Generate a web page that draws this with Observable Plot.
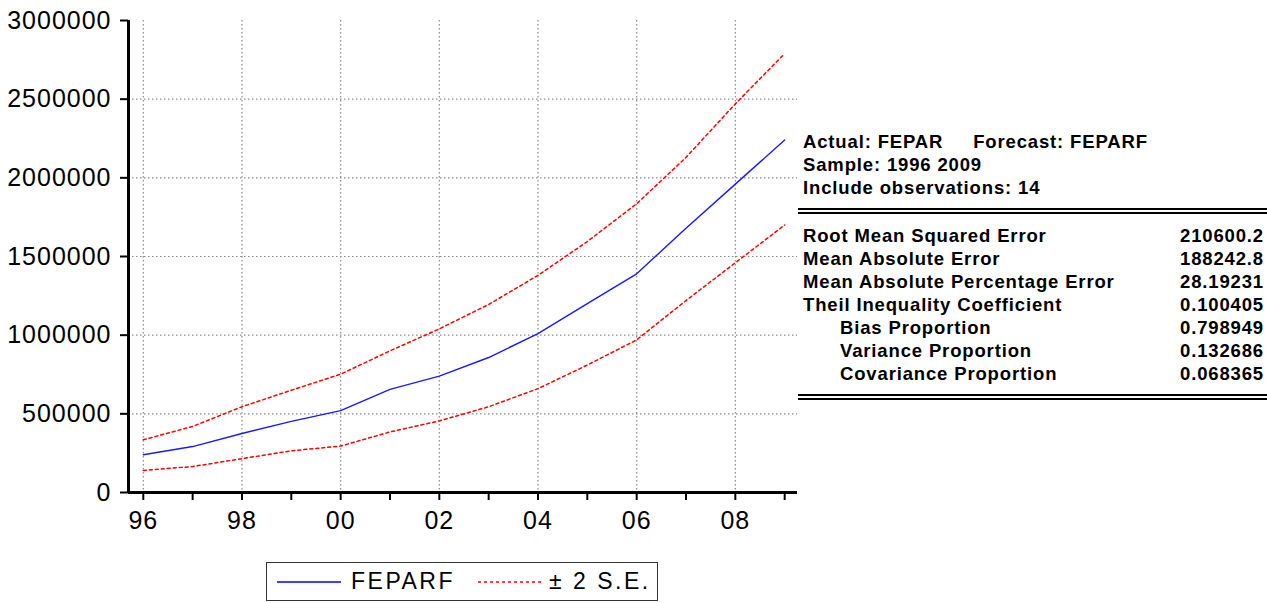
<!DOCTYPE html>
<html>
<head>
<meta charset="utf-8">
<script src="https://cdn.jsdelivr.net/npm/d3@7"></script>
<script src="https://cdn.jsdelivr.net/npm/@observablehq/plot@0.6"></script>
<style>
  html, body { margin: 0; padding: 0; background: #fff; }
  #wrap { position: relative; width: 1267px; height: 603px; overflow: hidden; }
  #chart { position: absolute; left: 0; top: 0; }
  #chart svg text { letter-spacing: 1px; }
  #stats { position: absolute; left: 798px; top: 130px; width: 469px;
           font-family: "Liberation Sans", Arial, sans-serif; font-weight: bold; font-size: 18.5px;
           letter-spacing: 0.85px; color: #000; }
  .row { position: relative; height: 23px; line-height: 23px; white-space: nowrap; padding-left: 5px; }
  .row .v { position: absolute; right: 3px; top: 0; }
  .ind { padding-left: 42px; }
  .dbl { height: 2px; border-top: 2px solid #000; border-bottom: 2px solid #000; margin: 0; }
  #legend { position: absolute; left: 266px; top: 562px; width: 390px; height: 37px;
            border: 1.5px solid #333; box-sizing: content-box;
            font-family: "Liberation Sans", Arial, sans-serif; font-size: 23px; color: #000; }
  #legend svg { position: absolute; left: 0; top: 0; }
  #legend .t { position: absolute; top: 5px; letter-spacing: 2.5px; }
</style>
</head>
<body>
<div id="wrap">
  <div id="chart"></div>
  <div id="stats"></div>
  <div id="legend"></div>
</div>
<script>
// ---- data ----
const years    = [1996, 1997, 1998, 1999, 2000, 2001, 2002, 2003, 2004, 2005, 2006, 2007, 2008, 2009];
const feparf   = [240000, 292000, 375000, 452000, 520000, 655000, 740000, 858000, 1010000, 1200000, 1390000, 1680000, 1960000, 2240000];
const upperSE  = [335000, 420000, 545000, 650000, 752000, 900000, 1040000, 1195000, 1380000, 1595000, 1835000, 2130000, 2470000, 2790000];
const lowerSE  = [140000, 165000, 215000, 265000, 295000, 385000, 455000, 545000, 660000, 810000, 970000, 1220000, 1460000, 1700000];
const yTicks   = [0, 500000, 1000000, 1500000, 2000000, 2500000, 3000000];
const xMajor   = [1996, 1998, 2000, 2002, 2004, 2006, 2008];
const xLabels  = ["96", "98", "00", "02", "04", "06", "08"];
const statLabels = ["Root Mean Squared Error", "Mean Absolute Error", "Mean Absolute Percentage Error",
                    "Theil Inequality Coefficient", "Bias Proportion", "Variance Proportion", "Covariance Proportion"];
const statValues = ["210600.2", "188242.8", "28.19231", "0.100405", "0.798949", "0.132686", "0.068365"];
const statIndent = [false, false, false, false, true, true, true];
const headerLines = ["Actual: FEPAR\u00a0\u00a0\u00a0\u00a0\u00a0Forecast: FEPARF", "Sample: 1996 2009", "Include observations: 14"];
const legendLabels = ["FEPARF", "\u00b1 2 S.E."];

const data = years.map((y, i) => ({year: y, f: feparf[i], up: upperSE[i], lo: lowerSE[i]}));
const xMin = 1995.7, xMax = 2009.26;
const gridStyle = {stroke: "#8a8a8a", strokeOpacity: 1, strokeWidth: 1.2, strokeDasharray: "1.5,2.5"};
const labelMap = new Map(xMajor.map((y, i) => [y, xLabels[i]]));

const chart = Plot.plot({
  width: 1267,
  height: 550,
  marginLeft: 128,
  marginRight: 470,
  marginTop: 20,
  marginBottom: 58,
  style: {fontFamily: "Liberation Sans, Arial, sans-serif", background: "#fff"},
  x: {domain: [xMin, xMax]},
  y: {domain: [0, 3000000]},
  marks: [
    Plot.gridX(xMajor, gridStyle),
    Plot.gridY(yTicks.slice(1, -1), gridStyle),
    Plot.line(data, {x: "year", y: "up", stroke: "#ff0000", strokeWidth: 1.5, strokeDasharray: "3,3"}),
    Plot.line(data, {x: "year", y: "lo", stroke: "#ff0000", strokeWidth: 1.5, strokeDasharray: "3,3"}),
    Plot.line(data, {x: "year", y: "f", stroke: "#1a1aff", strokeWidth: 1.4}),
    Plot.axisY(yTicks, {tickSize: 8, tickPadding: 9, strokeWidth: 2, fontSize: 25, tickFormat: d => String(d), label: null}),
    Plot.axisX(years, {tickSize: 8, tickPadding: 11, strokeWidth: 2, fontSize: 25, tickFormat: d => labelMap.get(d) || "", label: null}),
    Plot.ruleX([xMin], {stroke: "#000", strokeWidth: 3}),
    Plot.ruleY([0], {stroke: "#000", strokeWidth: 3})
  ]
});
document.getElementById("chart").appendChild(chart);

// ---- stats table ----
const stats = document.getElementById("stats");
let html = "";
headerLines.forEach(t => { html += `<div class="row">${t}</div>`; });
html += `<div style="height:9px"></div><div class="dbl"></div><div style="height:10px"></div>`;
statLabels.forEach((t, i) => {
  html += `<div class="row${statIndent[i] ? " ind" : ""}">${t}<span class="v">${statValues[i]}</span></div>`;
});
html += `<div style="height:9px"></div><div class="dbl"></div>`;
stats.innerHTML = html;

// ---- legend ----
const legend = document.getElementById("legend");
legend.innerHTML = `
  <svg width="390" height="37">
    <line x1="10" x2="74" y1="19" y2="19" stroke="#0000ff" stroke-width="1.5"/>
    <line x1="211" x2="274" y1="19" y2="19" stroke="#ff0000" stroke-width="1.5" stroke-dasharray="3,3"/>
  </svg>
  <span class="t" style="left:84px">${legendLabels[0]}</span>
  <span class="t" style="left:282px">${legendLabels[1]}</span>`;
</script>
</body>
</html>
